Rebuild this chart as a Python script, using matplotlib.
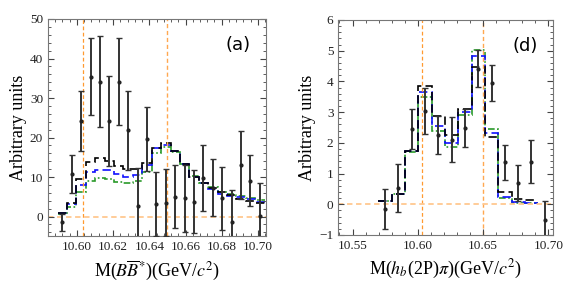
import numpy as np
import matplotlib
matplotlib.use('Agg')
import matplotlib.pyplot as plt
from matplotlib.ticker import MultipleLocator

plt.rcParams['font.family'] = ['Liberation Serif', 'DejaVu Serif']
plt.rcParams['mathtext.fontset'] = 'stix'

# ------------------------------------------------------------------
# Data: panel (a), M(B B*) spectrum
# ------------------------------------------------------------------
a_x = [10.5919, 10.5971, 10.6023, 10.6075, 10.6127, 10.6179, 10.6231, 10.6283,
       10.6335, 10.6387, 10.6439, 10.6491, 10.6543, 10.6595, 10.6647, 10.6699,
       10.6751, 10.6803, 10.6855, 10.6907, 10.6959, 10.7011]
a_y = [-1.5, 10.8, 24.2, 35.4, 34.1, 24.2, 34.1, 21.9, 2.7, 19.6, 3.2,
       3.5, 5.0, 4.6, 3.8, 9.7, 7.3, 4.6, -1.5, 13.1, 9.1, 0.1]
a_err = [2.1, 4.8, 7.6, 9.8, 11.5, 11.3, 11.0, 10.0, 9.5, 8.0, 8.0,
         8.5, 8.0, 8.5, 8.0, 8.3, 7.2, 8.0, 8.2, 8.6, 6.5, 8.5]
a_black = [0.9, 3.4, 9.5, 13.9, 14.7, 14.0, 12.9, 12.0, 12.0, 13.5, 17.4,
           18.5, 16.6, 13.3, 10.1, 8.4, 7.3, 6.1, 5.4, 4.5, 3.9, 3.4]
a_blue = [0.9, 3.1, 8.0, 11.2, 11.9, 11.8, 10.7, 10.1, 10.6, 13.0, 17.3,
          18.2, 16.6, 13.3, 10.1, 8.4, 7.0, 5.8, 5.2, 4.9, 4.4, 3.7]
a_green = [0.7, 2.4, 6.1, 8.9, 9.7, 9.5, 8.7, 8.4, 9.0, 11.2, 16.2,
           17.5, 16.3, 13.3, 10.3, 8.6, 7.4, 6.3, 5.6, 5.1, 4.7, 4.1]

# ------------------------------------------------------------------
# Data: panel (d), M(h_b(2P) pi) spectrum
# ------------------------------------------------------------------
d_x = [10.5749, 10.5851, 10.5953, 10.6055, 10.6157, 10.6259, 10.6361,
       10.6463, 10.6565, 10.6667, 10.6769, 10.6871, 10.6973]
d_y = [-0.15, 0.53, 2.45, 3.05, 2.26, 2.10, 2.48, 4.41, 3.95, 1.36, 0.69, 1.39, -0.50]
d_err = [0.65, 0.77, 0.65, 0.75, 0.63, 0.74, 0.61, 0.60, 0.60, 0.58, 0.58, 0.70, 0.60]
d_black = [0.12, 0.35, 1.75, 3.84, 2.87, 2.24, 3.10, 4.47, 2.18, 0.40, 0.18, 0.15]
d_blue = [0.12, 0.35, 1.75, 3.67, 2.55, 2.01, 3.02, 4.82, 2.32, 0.25, 0.09, 0.05]
d_green = [0.10, 0.34, 1.70, 3.48, 2.40, 1.88, 2.92, 5.03, 2.46, 0.22, 0.05, 0.04]

THRESHOLDS = [10.6032, 10.6497]   # B B* and B* B* thresholds (as drawn)


def bin_edges(centers):
    c = np.asarray(centers)
    half = np.diff(c).mean() / 2
    return np.append(c - half, c[-1] + half)


def draw_panel(ax, x, y, err, hists, label, xlim, ylim):
    edges = bin_edges(x[:len(hists[0])])
    styles = [('black', (0, (5, 2.5))), ('#1010ff', (0, (5, 2.5))),
              ('#2a9a2a', (0, (4, 1.5, 1, 1.5)))]
    for vals, (col, ls) in zip(hists[::-1], styles[::-1]):
        ax.stairs(vals, edges, color=col, ls=ls, lw=1.2, baseline=None)
    ax.axvline(THRESHOLDS[0], color='#ff9a30', ls=(0, (3, 2)), lw=0.9, zorder=1)
    ax.axvline(THRESHOLDS[1], color='#ffa850', ls=(0, (3, 2)), lw=1.0, zorder=1)
    ax.axhline(0, color='#ffc890', ls=(0, (3, 2)), lw=1.3, zorder=1)
    ax.errorbar(x, y, yerr=err, fmt='o', ms=2, color='#222222', ecolor='#333333',
                elinewidth=1.4, capsize=2.3, capthick=1.0, zorder=5)
    ax.set_xlim(*xlim)
    ax.set_ylim(*ylim)
    ax.text(0.93, 0.88, label, transform=ax.transAxes, ha='right', va='center',
            fontsize=13, family='DejaVu Sans')
    ax.tick_params(which='both', direction='in', top=True, right=True,
                   colors='#444444', labelcolor='#222222', labelsize=9.5)
    ax.tick_params(which='major', length=4)
    ax.tick_params(which='minor', length=2)
    for s in ax.spines.values():
        s.set_color('#777777')
    ax.set_ylabel('Arbitrary units', fontsize=13, labelpad=2)


fig = plt.figure(figsize=(5.81, 2.90), dpi=100)
ax1 = fig.add_axes([0.0826, 0.1852, 0.3747, 0.7493])
ax2 = fig.add_axes([0.5823, 0.1897, 0.3700, 0.7414])

draw_panel(ax1, a_x, a_y, a_err, [a_black, a_blue, a_green], '(a)',
           (10.584, 10.7043), (-5, 50))
ax1.xaxis.set_minor_locator(MultipleLocator(0.004))
ax1.yaxis.set_major_locator(MultipleLocator(10))
ax1.yaxis.set_minor_locator(MultipleLocator(2))
ax1.set_xticks([10.60, 10.62, 10.64, 10.66, 10.68, 10.70])
ax1.set_xticklabels(['10.60', '10.62', '10.64', '10.66', '10.68', '10.70'])
ax1.set_xlabel(r'M($B\overline{B}^{*}$)(GeV/$c^{2}$)', fontsize=13, labelpad=4)

draw_panel(ax2, d_x, d_y, d_err, [d_black, d_blue, d_green], '(d)',
           (10.5391, 10.7038), (-1, 6))
ax2.set_xticks([10.55, 10.60, 10.65, 10.70])
ax2.set_xticklabels(['10.55', '10.60', '10.65', '10.70'])
ax2.xaxis.set_minor_locator(MultipleLocator(0.01))
ax2.yaxis.set_major_locator(MultipleLocator(1))
ax2.yaxis.set_minor_locator(MultipleLocator(0.2))
ax2.set_xlabel(r'M($h_b$(2P)$\pi$)(GeV/$c^{2}$)', fontsize=13, labelpad=4)

plt.savefig('out.png', dpi=100)
plt.close()
